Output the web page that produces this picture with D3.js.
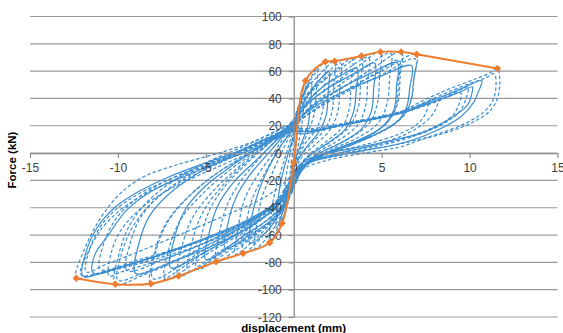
<!DOCTYPE html>
<html>
<head>
<meta charset="utf-8">
<script src="https://cdn.jsdelivr.net/npm/d3@7"></script>
<style>
  html, body { margin: 0; padding: 0; background: #fff; }
  svg { display: block; }
  .tick text { font-family: "Liberation Sans", Arial, sans-serif; font-size: 12px; fill: #404040; }
  .title { font-family: "Liberation Sans", Arial, sans-serif; font-size: 11.5px; font-weight: bold; fill: #000; }
</style>
</head>
<body>
<svg id="chart" width="563" height="333"></svg>
<script>
// Axis ticks
const xTicks = [-15, -10, -5, 0, 5, 10, 15];
const yTicks = [-120, -100, -80, -60, -40, -20, 0, 20, 40, 60, 80, 100];

// Backbone (envelope) curve: displacement (mm) and force (kN)
const envX = [-12.37, -10.15, -8.12, -6.55, -4.42, -2.88, -1.37, -0.66, 0.0, 0.67, 1.8, 2.33, 3.85, 4.93, 6.11, 6.98, 11.58];
const envY = [-91.7, -96.0, -95.6, -90.0, -79.5, -73.4, -65.6, -51.4, -7.0, 53.0, 66.8, 67.3, 71.0, 74.1, 74.1, 72.4, 62.0];

// Cyclic test record, one array of [displacement, force] per loading cycle
const cycle01 = [[-0.2,5],[0,15],[0.2,28],[0.35,35],[0.3,22],[0.15,8],[0,-5],[-0.15,-20],[-0.3,-35],[-0.25,-22],[-0.15,-8],[0,5]];
const cycle02 = [[0,8],[0.2,25],[0.45,42],[0.67,53],[0.6,38],[0.45,20],[0.2,2],[-0.1,-18],[-0.4,-36],[-0.66,-51.4],[-0.6,-36],[-0.45,-18],[-0.2,0],[0,12]];
const cycleA  = [[0,14],[0.25,30],[0.6,44],[1.0,52],[0.95,36],[0.8,20],[0.4,6],[0,-8],[-0.3,-26],[-0.6,-42],[-1.0,-55],[-0.95,-40],[-0.75,-22],[-0.4,-4],[0,12]];
const cycle03 = [[0,12],[0.3,32],[0.7,48],[1.0,56],[1.33,62],[1.28,45],[1.15,28],[0.7,12],[0.2,-2],[-0.1,-20],[-0.4,-40],[-0.9,-55],[-1.37,-65.6],[-1.3,-48],[-1.1,-30],[-0.7,-12],[-0.3,5],[0,18]];
const cycle04 = [[0,18],[0.3,35],[0.8,50],[1.3,60],[1.8,66.8],[1.75,50],[1.65,32],[1.3,18],[0.6,6],[0.1,-8],[-0.2,-25],[-0.6,-42],[-1.3,-58],[-2.2,-70],[-2.1,-52],[-1.8,-32],[-1.2,-14],[-0.6,3],[-0.1,16]];
const cycleB  = [[0,14],[0.4,32],[1.0,46],[1.5,54],[2.0,60],[1.95,44],[1.85,28],[1.4,15],[0.7,4],[0.1,-8],[-0.3,-26],[-0.8,-44],[-1.6,-58],[-2.5,-66],[-2.4,-48],[-2.0,-28],[-1.4,-10],[-0.7,6],[0,18]];
const cycle05 = [[-0.1,16],[0.2,32],[0.7,46],[1.5,58],[2.33,67.3],[2.28,50],[2.2,32],[1.8,18],[1.0,7],[0.3,-4],[-0.1,-20],[-0.5,-38],[-1.2,-52],[-2.0,-64],[-2.88,-73.4],[-2.75,-55],[-2.4,-35],[-1.7,-16],[-1.0,0],[-0.3,14],[0,22]];
const cycle06 = [[0,20],[0.4,36],[1.2,50],[2.0,60],[2.66,66],[2.62,48],[2.5,30],[2.0,16],[1.2,6],[0.4,-4],[0,-18],[-0.4,-34],[-1.2,-50],[-2.3,-64],[-3.3,-74],[-3.15,-54],[-2.8,-34],[-2.0,-15],[-1.1,1],[-0.4,15],[0,24]];
const cycleC  = [[0,18],[0.6,34],[1.6,48],[2.7,57],[3.6,62],[3.55,46],[3.4,30],[2.9,17],[1.9,7],[0.8,-3],[0.1,-15],[-0.3,-32],[-1.2,-48],[-2.5,-60],[-3.9,-70],[-3.75,-52],[-3.3,-33],[-2.5,-16],[-1.5,-1],[-0.5,14],[0,22]];
const cycle07 = [[0,24],[0.5,38],[1.5,52],[2.5,62],[3.3,69],[3.25,50],[3.15,32],[2.7,18],[1.8,8],[0.8,-2],[0.1,-14],[-0.3,-30],[-1.0,-46],[-2.2,-60],[-3.3,-71],[-4.42,-79.5],[-4.25,-60],[-3.85,-40],[-3.1,-22],[-2.1,-6],[-1.1,8],[-0.3,20],[0.2,28]];
const cycle08 = [[0.2,28],[0.8,42],[1.8,54],[2.9,64],[3.85,71],[3.8,52],[3.68,34],[3.2,20],[2.2,9],[1.1,0],[0.3,-12],[-0.1,-28],[-0.8,-44],[-2.0,-58],[-3.5,-70],[-5.5,-85],[-5.3,-64],[-4.8,-42],[-3.9,-24],[-2.7,-8],[-1.5,6],[-0.5,18],[0.1,26]];
const cycleD  = [[0,22],[0.8,36],[2.0,48],[3.4,58],[4.6,66],[4.55,48],[4.4,30],[3.8,17],[2.6,7],[1.2,-2],[0.3,-14],[-0.2,-30],[-1.2,-46],[-2.8,-60],[-5.0,-78],[-4.8,-58],[-4.3,-38],[-3.4,-21],[-2.2,-6],[-1.0,9],[0,20]];
const cycle09 = [[0.1,26],[0.9,40],[2.0,52],[3.2,63],[4.25,70],[4.2,52],[4.08,34],[3.6,20],[2.5,9],[1.3,0],[0.4,-12],[0,-26],[-0.7,-42],[-2.0,-57],[-3.8,-71],[-6.0,-86],[-5.8,-66],[-5.2,-44],[-4.2,-26],[-3.0,-10],[-1.7,4],[-0.6,16],[0,24]];
const cycle10 = [[0,24],[1.0,38],[2.2,50],[3.6,63],[4.93,74.1],[4.88,56],[4.75,36],[4.3,22],[3.2,11],[1.8,2],[0.6,-9],[0,-24],[-0.8,-40],[-2.2,-56],[-4.2,-72],[-6.55,-90],[-6.35,-68],[-5.7,-46],[-4.6,-28],[-3.3,-12],[-1.9,3],[-0.7,15],[0,24]];
const cycleE  = [[0,20],[1.0,34],[2.6,47],[4.3,58],[5.9,66],[5.85,50],[5.7,32],[5.0,19],[3.6,9],[1.9,0],[0.6,-10],[0,-24],[-1.0,-40],[-2.9,-57],[-5.0,-72],[-7.0,-84],[-6.8,-63],[-6.2,-42],[-5.1,-25],[-3.6,-10],[-2.0,4],[-0.7,16],[0,22]];
const cycle11 = [[0,22],[1.1,36],[2.5,49],[4.0,62],[5.5,73],[5.45,55],[5.3,36],[4.8,22],[3.6,11],[2.0,2],[0.7,-8],[0,-22],[-0.9,-38],[-2.5,-55],[-4.7,-72],[-7.3,-92],[-7.1,-70],[-6.4,-48],[-5.2,-30],[-3.8,-14],[-2.2,1],[-0.9,14],[0,22]];
const cycle12 = [[0,22],[1.2,35],[2.8,48],[4.5,62],[6.11,74.1],[6.05,56],[5.9,36],[5.3,22],[4.0,11],[2.3,2],[0.8,-8],[0,-22],[-1.0,-38],[-2.8,-55],[-5.2,-74],[-8.12,-95.6],[-7.9,-72],[-7.2,-50],[-6.0,-32],[-4.5,-16],[-2.7,-1],[-1.1,12],[0,21]];
const cycle13 = [[0,20],[1.3,33],[3.0,46],[4.6,58],[6.0,68],[5.95,52],[5.8,34],[5.2,21],[3.9,10],[2.2,1],[0.7,-9],[0,-22],[-1.1,-38],[-3.0,-55],[-5.5,-74],[-8.0,-92],[-7.8,-70],[-7.1,-49],[-5.9,-31],[-4.4,-15],[-2.6,-1],[-1.0,12],[0,21]];
const cycleF  = [[0,22],[1.2,34],[3.0,46],[4.9,56],[6.7,64],[6.6,48],[6.4,33],[5.8,22],[4.5,13],[2.6,4],[1.0,-5],[0,-18],[-0.6,-33],[-2.0,-50],[-4.3,-66],[-6.8,-79],[-9.0,-88],[-8.8,-66],[-8.2,-46],[-7.1,-30],[-5.6,-16],[-3.7,-3],[-1.8,9],[0,19]];
const cycle14 = [[0,21],[1.3,33],[3.0,46],[5.0,60],[6.98,72.4],[6.85,56],[6.7,40],[6.3,28],[5.2,17],[3.5,7],[1.6,-2],[0.3,-12],[-0.3,-26],[-1.5,-42],[-3.5,-58],[-6.2,-76],[-8.5,-89],[-10.15,-96],[-9.9,-72],[-9.3,-52],[-8.2,-34],[-6.8,-20],[-5.0,-7],[-3.0,4],[-1.3,14],[0,22]];
const cycle15 = [[0,21],[1.4,33],[3.2,46],[5.1,58],[6.9,69],[6.8,52],[6.65,38],[6.2,27],[5.0,16],[3.3,6],[1.4,-3],[0.2,-14],[-0.4,-28],[-1.7,-44],[-3.8,-60],[-6.5,-77],[-8.6,-88],[-10.0,-93],[-9.8,-74],[-9.2,-55],[-8.2,-38],[-6.9,-24],[-5.2,-11],[-3.2,1],[-1.4,12],[0,20]];
const cycleG  = [[0,19],[1.0,17],[3.0,22],[5.0,27],[6.5,32],[7.5,37],[8.2,40],[8.1,33],[7.6,24],[6.4,14],[4.6,6],[2.6,0],[1.0,-6],[0,-17],[-0.6,-32],[-2.2,-48],[-4.8,-64],[-7.4,-78],[-9.5,-86],[-9.3,-66],[-8.7,-47],[-7.6,-31],[-6.0,-18],[-4.0,-6],[-2.0,6],[0,17]];
const cycle16 = [[0,16],[0.5,14],[2.5,20],[4.5,25],[6.07,29],[7.2,34],[8.5,40],[9.5,45],[10.15,48.5],[10.1,42],[9.87,35],[8.9,25.4],[7.2,14.4],[6.07,10.7],[4.0,5],[2.0,0],[0.6,-6],[0,-16],[-0.5,-30],[-1.8,-44],[-4.0,-58],[-7.0,-72],[-9.5,-82],[-11.4,-88],[-11.3,-74],[-10.6,-61],[-9.5,-41.7],[-7.97,-27],[-6.26,-17.3],[-4.5,-8],[-2.5,2],[-0.8,12],[0,16]];
const cycleH  = [[0,17],[1.0,16],[3.0,21],[5.0,26],[6.8,32],[8.2,38],[9.5,44],[9.4,36],[9.0,27],[7.8,18],[6.0,10],[4.0,4],[2.0,-2],[0.5,-9],[-0.3,-22],[-1.2,-38],[-3.2,-53],[-6.0,-67],[-8.8,-78],[-11.0,-85],[-10.8,-66],[-10.1,-48],[-9.0,-34],[-7.5,-22],[-5.6,-11],[-3.4,0],[-1.4,11],[0,17]];
const cycleI  = [[0,17],[1.0,16],[3.0,21],[5.0,26],[6.6,31],[7.6,36],[7.5,29],[7.0,21],[5.8,13],[4.0,6],[2.0,0],[0.5,-7],[-0.4,-20],[-1.6,-32],[-3.6,-44],[-6.0,-57],[-8.6,-71],[-10.6,-81],[-11.8,-87],[-11.6,-70],[-11.0,-54],[-10.0,-40],[-8.7,-29],[-7.0,-19],[-5.0,-9],[-3.0,1],[-1.2,11],[0,17]];
const cycleJ  = [[0,17],[1.2,17],[3.2,22],[5.2,27],[6.9,33],[8.6,41],[9.9,48],[9.8,40],[9.4,30],[8.3,20],[6.5,11],[4.4,4],[2.2,-2],[0.6,-9],[-0.2,-22],[-1.0,-36],[-2.6,-50],[-4.4,-62],[-6.2,-72],[-8.0,-80],[-9.8,-87],[-10.5,-90],[-10.4,-74],[-9.9,-58],[-9.0,-44],[-7.8,-32],[-6.2,-21],[-4.3,-10],[-2.4,1],[-0.8,12],[0,18]];
const cycle17 = [[0,16],[1.0,16],[3.0,21],[5.0,26],[6.5,31],[8.0,39],[9.5,47],[10.7,53],[10.5,45],[10.25,37.5],[9.5,26.6],[7.97,15.6],[6.07,7],[4.0,2],[2.0,-3],[0.5,-9],[-0.2,-20],[-0.8,-34],[-2.5,-48],[-5.0,-62],[-8.0,-76],[-10.5,-86],[-12.0,-90],[-11.8,-72],[-11.2,-55],[-10.2,-40],[-8.8,-28],[-7.2,-18],[-5.2,-8],[-3.0,2],[-1.0,13],[0,18]];
const cycle18 = [[0,18],[1.0,18],[3.0,22],[5.0,27],[6.07,30],[7.2,37.5],[8.9,47.3],[10.4,54.6],[11.2,59],[11.58,62],[11.72,52],[11.58,40],[11.2,31.5],[10.4,24],[9.1,16.8],[7.2,9.5],[6.07,4.6],[4.0,0],[2.0,-5],[0.5,-12],[-0.3,-25],[-1.0,-40],[-2.8,-54],[-5.5,-68],[-8.5,-80],[-11.0,-88],[-12.37,-91.7],[-12.42,-89],[-11.57,-61],[-10.8,-44],[-9.86,-29.5],[-8.54,-17.3],[-7.0,-10],[-6.07,-6.4],[-4.0,1],[-2.0,10],[-0.5,20]];
const cycle19 = [[-0.5,20],[0.5,16],[2.5,20],[4.5,25],[6.5,32],[8.3,42],[9.8,50],[10.9,55],[11.4,58],[11.5,48],[11.3,38],[10.8,30],[9.8,22],[8.2,14],[6.5,8],[4.5,3],[2.5,-2],[0.8,-8],[0,-20],[-0.6,-34],[-2.2,-48],[-4.8,-62],[-7.8,-76],[-10.3,-85],[-12.1,-89],[-11.6,-70],[-10.9,-55],[-9.9,-42],[-8.6,-31],[-7.2,-22],[-5.5,-12],[-3.5,-2],[-1.5,9],[0,16]];

// cycles in the order they were applied
const cycles = [cycle01, cycle02, cycleA, cycle03, cycle04, cycleB, cycle05, cycle06, cycleC, cycle07,
                cycle08, cycleD, cycle09, cycle10, cycleE, cycle11, cycle12, cycle13, cycleF, cycle14,
                cycle15, cycleG, cycle16, cycleH, cycleI, cycleJ, cycle17, cycle18, cycle19];

const svg = d3.select("#chart");

const x = d3.scaleLinear().domain([-15, 15]).range([30, 557.5]);
const y = d3.scaleLinear().domain([-120, 100]).range([317, 16.5]);

// horizontal gridlines
svg.append("g").attr("class", "grid")
  .selectAll("line").data(yTicks).join("line")
  .attr("x1", x(-15)).attr("x2", x(15))
  .attr("y1", d => y(d)).attr("y2", d => y(d))
  .attr("stroke", "#9a9a9a").attr("stroke-width", 1.2);

// hysteresis loops: repeat cycles and the two inner large loops are drawn solid
const solidCycles = new Set([cycleA, cycleB, cycleC, cycleD, cycleE, cycleF, cycle16, cycle17]);
const loopLine = d3.line()
  .x(d => x(d[0])).y(d => y(d[1]))
  .curve(d3.curveCatmullRom.alpha(0.5));

svg.append("g").attr("class", "loops")
  .selectAll("path").data(cycles).join("path")
  .attr("d", loopLine)
  .attr("fill", "none")
  .attr("stroke", "#3b8ed0")
  .attr("stroke-width", 1.2)
  .attr("stroke-dasharray", d => (solidCycles.has(d) ? null : "3.5,2.2"));

// axes crossing at the origin
const xAxis = d3.axisBottom(x).tickValues(xTicks).tickSize(5).tickSizeOuter(0)
  .tickPadding(5).tickFormat(d => String(d));
const yAxis = d3.axisLeft(y).tickValues(yTicks).tickSize(5).tickSizeOuter(0)
  .tickPadding(7).tickFormat(d => String(d));

const gx = svg.append("g").attr("transform", `translate(0,${y(0)})`).call(xAxis);
const gy = svg.append("g").attr("transform", `translate(${x(0)},0)`).call(yAxis);
[gx, gy].forEach(g => {
  g.select(".domain").attr("stroke", "#8c8c8c").attr("stroke-width", 1.3);
  g.selectAll(".tick line").attr("stroke", "#8c8c8c").attr("stroke-width", 1.2);
});
gx.selectAll(".tick text").attr("fill", "#404040");
gy.selectAll(".tick text").attr("fill", "#404040").attr("dy", "0.35em");

// backbone curve with diamond markers
const envData = envX.map((v, i) => [v, envY[i]]);
svg.append("path")
  .datum(envData)
  .attr("d", d3.line().x(d => x(d[0])).y(d => y(d[1])).curve(d3.curveCatmullRom.alpha(0.5)))
  .attr("fill", "none")
  .attr("stroke", "#ed7d31")
  .attr("stroke-width", 2);

svg.append("g").selectAll("path").data(envData).join("path")
  .attr("transform", d => `translate(${x(d[0])},${y(d[1])}) rotate(45)`)
  .attr("d", d3.symbol().type(d3.symbolSquare).size(28))
  .attr("fill", "#ed7d31");

// axis titles
svg.append("text").attr("class", "title")
  .attr("transform", `translate(16,160) rotate(-90)`)
  .attr("text-anchor", "middle")
  .text("Force (kN)");

svg.append("text").attr("class", "title")
  .attr("x", x(0)).attr("y", 332)
  .attr("text-anchor", "middle")
  .text("displacement (mm)");
</script>
</body>
</html>
